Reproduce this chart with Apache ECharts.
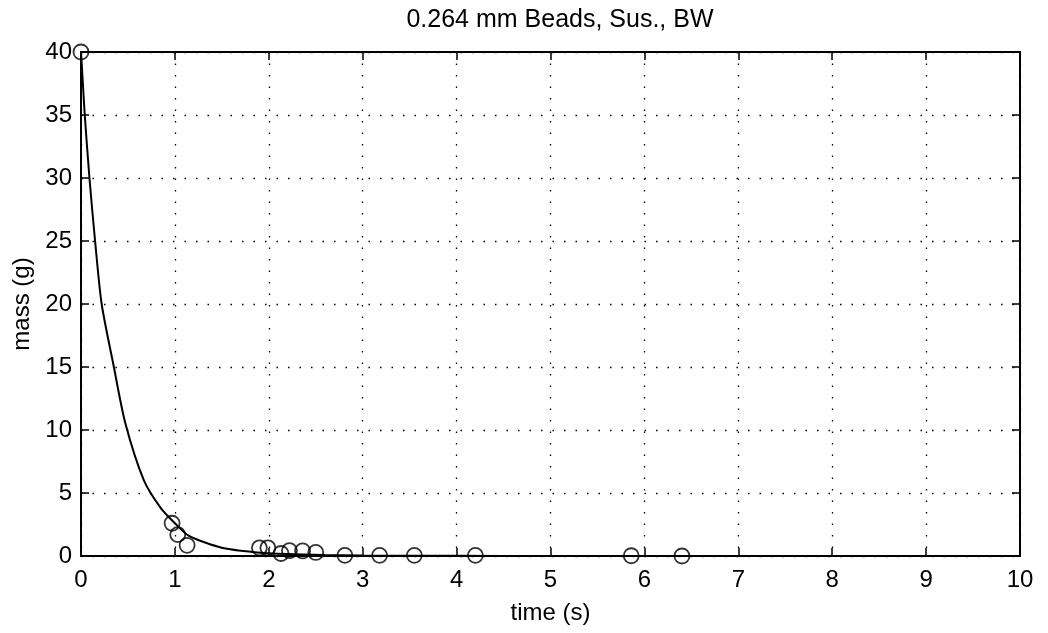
<!DOCTYPE html>
<html>
<head>
<meta charset="utf-8">
<script src="https://cdn.jsdelivr.net/npm/echarts@6/dist/echarts.min.js"></script>
<style>
  html, body { margin: 0; padding: 0; background: #fff; }
  #chart { width: 1048px; height: 633px; }
</style>
</head>
<body>
<div id="chart"></div>
<script>
// measured points (circles)
const pointTime = [0, 0.97, 1.03, 1.13, 1.9, 1.99, 2.13, 2.22, 2.36, 2.5, 2.81, 3.18, 3.55, 4.2, 5.86, 6.4];
const pointMass = [40, 2.6, 1.7, 0.85, 0.65, 0.65, 0.2, 0.42, 0.4, 0.28, 0.05, 0.05, 0.05, 0.05, 0.02, 0.0];

// fitted curve
const curveTime = [0, 0.02, 0.04, 0.09, 0.15, 0.22, 0.35, 0.47, 0.67, 0.85, 1.0, 1.15, 1.5, 1.85, 2.2, 2.6, 3, 4, 5, 6, 7, 8, 9, 10];
const curveMass = [40, 37.5, 35, 30, 25, 20, 15, 10.6, 6, 3.8, 2.6, 1.6, 0.65, 0.3, 0.15, 0.07, 0.04, 0.01, 0, 0, 0, 0, 0, 0];

const titleText = '0.264 mm Beads, Sus., BW';
const xName = 'time (s)';
const yName = 'mass (g)';

const FONT = 'Liberation Sans, Arial, Helvetica, sans-serif';

const gridLine = {
    show: true,
    lineStyle: { color: '#000', width: 1.3, type: [1.5, 10] }
};
const boxLine = { show: true, onZero: false, lineStyle: { color: '#000', width: 2 } };
const inTick = { show: true, inside: true, length: 8, lineStyle: { color: '#000', width: 1.5 } };

const chart = echarts.init(document.getElementById('chart'));
chart.setOption({
    animation: false,
    backgroundColor: '#fff',
    title: {
        text: titleText,
        left: 555,
        top: 3,
        textAlign: 'center',
        textStyle: { fontFamily: FONT, fontSize: 25, fontWeight: 'normal', color: '#000' }
    },
    grid: { left: 81, right: 28, top: 52, bottom: 77 },
    xAxis: [{
        type: 'value', min: 0, max: 10, interval: 1, position: 'bottom',
        name: xName, nameLocation: 'middle', nameGap: 45,
        nameTextStyle: { fontFamily: FONT, fontSize: 24, color: '#000' },
        axisLine: boxLine, axisTick: inTick,
        axisLabel: { fontFamily: FONT, fontSize: 24, color: '#000', margin: 12 },
        splitLine: gridLine
    }, {
        type: 'value', min: 0, max: 10, interval: 1, position: 'top',
        axisLine: boxLine, axisTick: inTick,
        axisLabel: { show: false }, splitLine: { show: false }
    }],
    yAxis: [{
        type: 'value', min: 0, max: 40, interval: 5, position: 'left',
        name: yName, nameLocation: 'middle', nameGap: 46,
        nameTextStyle: { fontFamily: FONT, fontSize: 24, color: '#000' },
        axisLine: boxLine, axisTick: inTick,
        axisLabel: { fontFamily: FONT, fontSize: 24, color: '#000', margin: 9 },
        splitLine: gridLine
    }, {
        type: 'value', min: 0, max: 40, interval: 5, position: 'right',
        axisLine: boxLine, axisTick: inTick,
        axisLabel: { show: false }, splitLine: { show: false }
    }],
    series: [{
        type: 'line',
        data: curveTime.map((t, i) => [t, curveMass[i]]),
        smooth: 0.25,
        showSymbol: false,
        lineStyle: { color: '#000', width: 2 },
        z: 3
    }, {
        type: 'scatter',
        data: pointTime.map((t, i) => [t, pointMass[i]]),
        symbol: 'circle',
        symbolSize: 15,
        itemStyle: { color: 'rgba(0,0,0,0)', borderColor: '#000', borderWidth: 1.8 },
        z: 4
    }]
});
</script>
</body>
</html>
